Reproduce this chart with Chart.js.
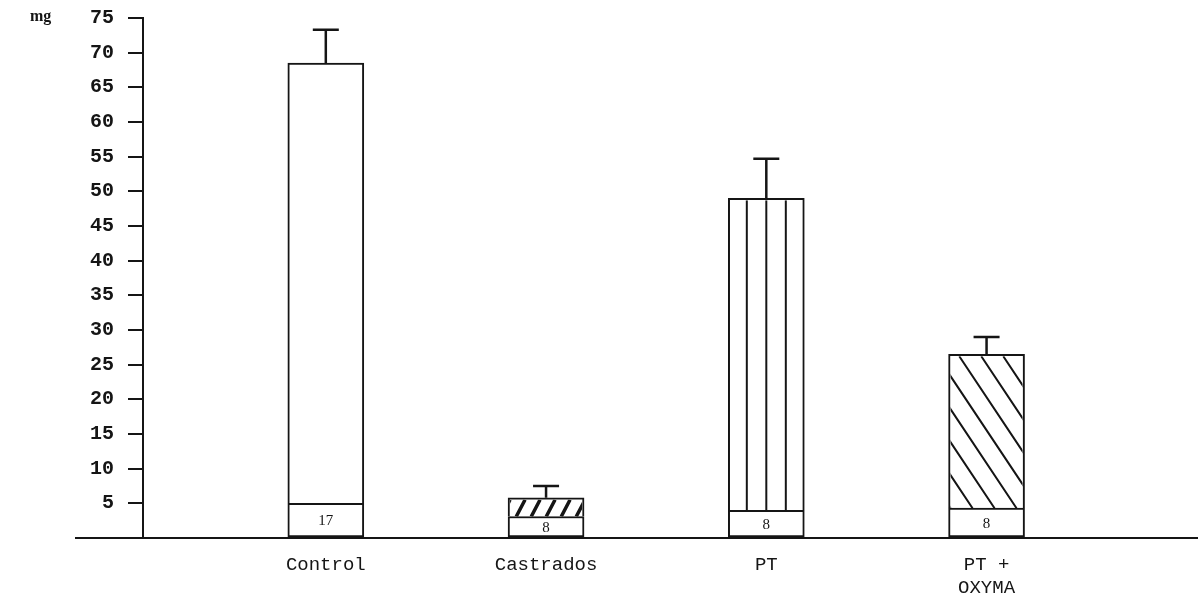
<!DOCTYPE html>
<html>
<head>
<meta charset="utf-8">
<script src="https://cdn.jsdelivr.net/npm/chart.js@4.4.1/dist/chart.umd.min.js"></script>
<style>
  html, body { margin: 0; padding: 0; background: #fff; }
  #wrap { width: 1198px; height: 614px; }
</style>
</head>
<body>
<div id="wrap"><canvas id="graph"></canvas></div>
<script>
// data
const categories = ['Control', 'Castrados', 'PT', ['PT +', 'OXYMA']]
const means =      [68.5, 5.8, 49, 26.5]
const sem =        [4.8, 1.7, 5.7, 2.5]
const nValues =    [17, 8, 8, 8]
const nBoxTop =    [5, 3.1, 4, 4.3]
const yTickValues = [0, 5, 10, 15, 20, 25, 30, 35, 40, 45, 50, 55, 60, 65, 70, 75]

const ink = '#151515'
const monoFont = "'Liberation Mono', 'DejaVu Sans Mono', monospace"
const serifFont = "'Liberation Serif', 'DejaVu Serif', serif"

// fill style for the upper part of each bar
const hatchKinds = ['none', 'slash', 'vertical', 'backslash']

function drawHatch(ctx, el, kind) {
    const {x, y, base, width} = el.getProps(['x', 'y', 'base', 'width'], true)
    const left = x - width / 2 + 2
    const right = x + width / 2 - 2
    const top = Math.min(y, base) + 2
    const bottom = Math.max(y, base)
    const h = bottom - top
    ctx.save()
    ctx.beginPath()
    ctx.rect(left, top, right - left, h)
    ctx.clip()
    ctx.strokeStyle = ink
    ctx.beginPath()
    if (kind === 'vertical') {
        ctx.lineWidth = 2
        for (let k = -1; k <= 1; k++) {
            ctx.moveTo(x + k * 19.5, top)
            ctx.lineTo(x + k * 19.5, bottom)
        }
    } else if (kind === 'slash') {
        ctx.lineWidth = 3.5
        const run = h / 1.9
        for (let lx = left - run; lx < right + run; lx += 15) {
            ctx.moveTo(lx, bottom)
            ctx.lineTo(lx + run, top)
        }
    } else if (kind === 'backslash') {
        ctx.lineWidth = 2
        const run = h / 1.5
        for (let lx = left - run; lx < right; lx += 22) {
            ctx.moveTo(lx, top)
            ctx.lineTo(lx + run, bottom)
        }
    }
    ctx.stroke()
    ctx.restore()
}

const decorations = {
    id: 'decorations',
    afterDatasetsDraw(chart) {
        const ctx = chart.ctx
        const yScale = chart.scales.y
        const boxMeta = chart.getDatasetMeta(0)
        const mainMeta = chart.getDatasetMeta(1)

        //hatching inside the bars
        mainMeta.data.forEach((el, i) => drawHatch(ctx, el, hatchKinds[i]))

        //error bars (mean + sem)
        ctx.save()
        ctx.strokeStyle = ink
        ctx.lineWidth = 2.5
        mainMeta.data.forEach((el, i) => {
            const yTop = yScale.getPixelForValue(means[i])
            const yErr = yScale.getPixelForValue(means[i] + sem[i])
            ctx.beginPath()
            ctx.moveTo(el.x, yTop)
            ctx.lineTo(el.x, yErr)
            ctx.moveTo(el.x - 13, yErr)
            ctx.lineTo(el.x + 13, yErr)
            ctx.stroke()
        })

        //n inside the bottom boxes
        ctx.fillStyle = ink
        ctx.font = '15px ' + serifFont
        ctx.textAlign = 'center'
        ctx.textBaseline = 'middle'
        boxMeta.data.forEach((el, i) => {
            ctx.fillText(String(nValues[i]), el.x, (el.y + el.base) / 2 + 1)
        })
        ctx.restore()
    },
    afterDraw(chart) {
        const ctx = chart.ctx
        const area = chart.chartArea
        const y0 = chart.scales.y.getPixelForValue(0)
        ctx.save()
        //baseline continues left of the y axis
        ctx.strokeStyle = ink
        ctx.lineWidth = 2
        ctx.beginPath()
        ctx.moveTo(75, y0)
        ctx.lineTo(area.left, y0)
        ctx.stroke()
        //unit
        ctx.fillStyle = ink
        ctx.font = 'bold 16px ' + serifFont
        ctx.textAlign = 'left'
        ctx.textBaseline = 'top'
        ctx.fillText('mg', 30, 9)
        ctx.restore()
    }
}

const ctx = document.getElementById('graph')
new Chart(ctx, {
    type: 'bar',
    data: {
        datasets: [
            {//n box at the foot of each bar
                label: 'n',
                data: categories.map((c, i) => ({x: i + 1, y: [0, nBoxTop[i]]})),
                backgroundColor: '#fff',
                borderColor: ink,
                borderWidth: 2,
                borderSkipped: false,
            },
            {//mean
                label: 'mg',
                data: categories.map((c, i) => ({x: i + 1, y: [nBoxTop[i], means[i]]})),
                backgroundColor: '#fff',
                borderColor: ink,
                borderWidth: 2,
                borderSkipped: 'start',
            }
        ]
    },
    options: {
        animation: false,
        responsive: true,
        maintainAspectRatio: false,
        grouped: false,
        barThickness: 76,
        layout: {padding: {top: 18, right: 0, bottom: 0, left: 0}},
        plugins: {
            legend: {display: false},
            tooltip: {enabled: false}
        },
        scales: {
            x: {
                type: 'linear',
                offset: false,
                min: 0.17,
                max: 4.96,
                afterBuildTicks: (scale) => {
                    scale.ticks = categories.map((c, i) => ({value: i + 1}))
                },
                afterFit: (scale) => { scale.height = 76 },
                grid: {display: false, drawTicks: false, offset: false},
                border: {display: true, color: ink, width: 2},
                ticks: {
                    autoSkip: false,
                    maxRotation: 0,
                    padding: 16,
                    color: ink,
                    font: {family: monoFont, size: 19},
                    callback: (v) => categories[v - 1]
                }
            },
            y: {
                min: 0,
                max: 75,
                afterBuildTicks: (scale) => {
                    scale.ticks = yTickValues.map(v => ({value: v}))
                },
                afterFit: (scale) => {
                    scale.width = 143
                    scale.paddingTop = 0
                    scale.paddingBottom = 0
                },
                grid: {
                    drawOnChartArea: false,
                    drawTicks: true,
                    tickLength: 15,
                    color: ink,
                    lineWidth: 2
                },
                border: {display: true, color: ink, width: 2},
                ticks: {
                    padding: 14,
                    color: ink,
                    font: {family: monoFont, size: 20, weight: 'bold'},
                    callback: (v) => v === 0 ? '' : v
                }
            }
        }
    },
    plugins: [decorations]
})
</script>
</body>
</html>
